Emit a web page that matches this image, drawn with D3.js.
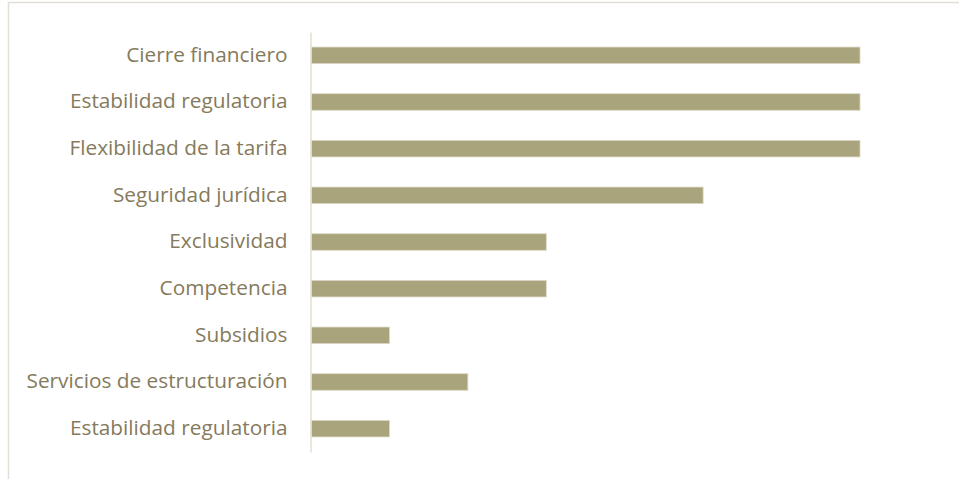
<!DOCTYPE html>
<html>
<head>
<meta charset="utf-8">
<script src="https://cdn.jsdelivr.net/npm/d3@7"></script>
<style>
  html, body { margin: 0; padding: 0; background: #ffffff; }
  svg { display: block; }
</style>
</head>
<body>
<svg id="chart" width="959" height="479"></svg>
<script>
// Factors, top to bottom, and their scores
const categories = [
  "Cierre financiero",
  "Estabilidad regulatoria",
  "Flexibilidad de la tarifa",
  "Seguridad jurídica",
  "Exclusividad",
  "Competencia",
  "Subsidios",
  "Servicios de estructuración",
  "Estabilidad regulatoria"
];
const values = [7, 7, 7, 5, 3, 3, 1, 2, 1];

const svg = d3.select("#chart");
const W = 959, H = 479;

// outer chart frame
svg.append("rect")
  .attr("x", 8.5).attr("y", 2.5)
  .attr("width", W + 10).attr("height", H + 10)
  .attr("fill", "#ffffff")
  .attr("stroke", "#e3dfd6")
  .attr("stroke-width", 1.5);

const x0 = 311;
const x = d3.scaleLinear().domain([0, 7]).range([x0, 860]);
const y = d3.scaleBand()
  .domain(d3.range(categories.length))
  .range([32, 452])
  .paddingInner(0.645)
  .paddingOuter(0.3225);

const g = svg.append("g");

// bars
g.selectAll("rect.bar")
  .data(values)
  .join("rect")
  .attr("class", "bar")
  .attr("x", x(0))
  .attr("y", (d, i) => y(i))
  .attr("width", d => x(d) - x(0))
  .attr("height", y.bandwidth())
  .attr("fill", "#a9a47c")
  .attr("stroke", "#dcd8c6")
  .attr("stroke-width", 0.8);

// category axis
const axis = d3.axisLeft(y)
  .tickFormat(i => categories[i])
  .tickSize(0)
  .tickPadding(23);

const ax = g.append("g")
  .attr("transform", `translate(${x0 - 0.5},0)`)
  .call(axis);

ax.select(".domain")
  .attr("stroke", "#e6e1d6")
  .attr("stroke-width", 1.6);

ax.selectAll(".tick text")
  .attr("fill", "#857a5c")
  .attr("dy", "0.31em")
  .style("font-family", "'Open Sans', sans-serif")
  .style("font-size", "20.8px");
</script>
</body>
</html>
